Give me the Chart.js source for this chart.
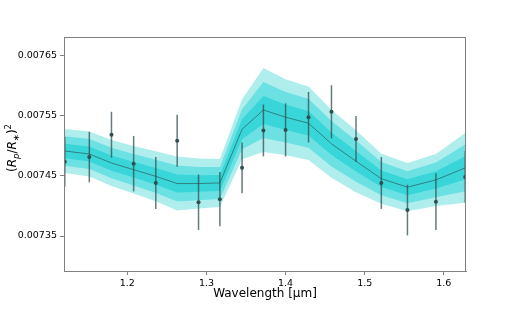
<!DOCTYPE html>
<html>
<head>
<meta charset="utf-8">
<script src="https://cdn.jsdelivr.net/npm/chart.js@4.4.1/dist/chart.umd.min.js"></script>
<style>
  html, body { margin: 0; padding: 0; background: #fff; }
  #wrap { width: 518px; height: 311px; }
</style>
</head>
<body>
<div id="wrap"><canvas id="spectrum" width="518" height="311"></canvas></div>
<script>
// observed transit depth per spectral bin
const wavelength = [1.121, 1.152, 1.180, 1.208, 1.236, 1.263, 1.290, 1.317, 1.345,
  1.372, 1.400, 1.429, 1.458, 1.489, 1.521, 1.554, 1.590, 1.627];
const depth = [0.007473, 0.007481, 0.007518, 0.007470, 0.007438, 0.007508, 0.007406, 0.007411, 0.007463,
  0.007525, 0.007526, 0.007547, 0.007556, 0.007511, 0.007438, 0.007393, 0.007407, 0.007448];
const depthErr = [0.000041, 0.000042, 0.000038, 0.000046, 0.000043, 0.000043, 0.000046, 0.000045, 0.000042,
  0.000043, 0.000044, 0.000042, 0.000044, 0.000038, 0.000043, 0.000042, 0.000047, 0.000043];

// best-fit model and its 1-sigma spread
const model = [0.007491, 0.007486, 0.007471, 0.007460, 0.007449, 0.007437, 0.007437, 0.007438, 0.007527,
  0.007559, 0.007547, 0.007537, 0.007503, 0.007474, 0.007445, 0.007431, 0.007443, 0.007463];
const modelSigma = [0.0000122, 0.0000124, 0.0000127, 0.0000131, 0.0000138, 0.0000149, 0.0000138, 0.0000133, 0.0000166,
  0.0000232, 0.0000210, 0.0000203, 0.0000188, 0.0000171, 0.0000138, 0.0000133, 0.0000144, 0.0000193];

const xTicks = [1.2, 1.3, 1.4, 1.5, 1.6];
const yTicks = [0.00735, 0.00745, 0.00755, 0.00765];

const bandColors = ['#38d6d8', '#6ce1e3', '#b0eded']; // 1, 2, 3 sigma
const frameColor = '#808080';

const pts = (ys) => wavelength.map((w, i) => ({ x: w, y: ys[i] }));

function band(k, color) {
  const upper = model.map((m, i) => m + k * modelSigma[i]);
  const lower = model.map((m, i) => m - k * modelSigma[i]);
  return [
    { data: pts(upper), fill: '+1', backgroundColor: color, borderWidth: 0, pointRadius: 0, tension: 0 },
    { data: pts(lower), fill: false, borderWidth: 0, pointRadius: 0, tension: 0 },
  ];
}

// vertical error bars, drawn just before the data markers
const errorBars = {
  id: 'errorBars',
  beforeDatasetDraw(chart, args) {
    if (args.index !== 0) return;
    const { ctx, scales: { x, y } } = chart;
    ctx.save();
    ctx.strokeStyle = 'rgba(47,79,79,0.75)';
    ctx.lineWidth = 1.5;
    wavelength.forEach((w, i) => {
      const px = x.getPixelForValue(w);
      ctx.beginPath();
      ctx.moveTo(px, y.getPixelForValue(depth[i] + depthErr[i]));
      ctx.lineTo(px, y.getPixelForValue(depth[i] - depthErr[i]));
      ctx.stroke();
    });
    ctx.restore();
  },
};

// full box around the axes
const frame = {
  id: 'frame',
  afterDraw(chart) {
    const { ctx, chartArea: a } = chart;
    ctx.save();
    ctx.strokeStyle = frameColor;
    ctx.lineWidth = 1;
    ctx.strokeRect(a.left + 0.5, a.top + 0.5, a.right - a.left - 1, a.bottom - a.top);
    ctx.restore();
  },
};

// (R_p/R_*)^2 with italics, subscripts and superscript
const yTitle = {
  id: 'yTitle',
  afterDraw(chart) {
    const ctx = chart.ctx;
    const fam = '"DejaVu Sans", sans-serif';
    const parts = [
      ['(', '12px', 0], ['R', 'italic 12px', 0], ['p', 'italic 8.5px', 3],
      ['/', '12px', 0], ['R', 'italic 12px', 0], ['\u2217', '8.5px', 3],
      [')', '12px', 0], ['2', '8.5px', -5],
    ];
    ctx.save();
    let total = 0;
    parts.forEach((p) => { ctx.font = `${p[1]} ${fam}`; total += ctx.measureText(p[0]).width; });
    const a = chart.chartArea;
    ctx.translate(16, (a.top + a.bottom) / 2 - 6);
    ctx.rotate(-Math.PI / 2);
    ctx.fillStyle = '#000';
    ctx.textBaseline = 'alphabetic';
    let cx = -total / 2;
    parts.forEach((p) => {
      ctx.font = `${p[1]} ${fam}`;
      ctx.fillText(p[0], cx, p[2]);
      cx += ctx.measureText(p[0]).width;
    });
    ctx.restore();
  },
};

const ctx = document.getElementById('spectrum').getContext('2d');
const chart = new Chart(ctx, {
  type: 'line',
  data: {
    datasets: [
      { data: pts(depth), showLine: false, pointRadius: 2, pointBackgroundColor: '#2f4f4f', pointBorderWidth: 0 },
      { data: pts(model), borderColor: 'rgba(47,100,100,0.75)', borderWidth: 1, pointRadius: 0, fill: false, tension: 0 },
      ...band(1, bandColors[0]),
      ...band(2, bandColors[1]),
      ...band(3, bandColors[2]),
    ],
  },
  options: {
    responsive: false,
    animation: false,
    layout: { padding: { left: 0, right: 52, top: 37, bottom: 0 } },
    plugins: { legend: { display: false }, tooltip: { enabled: false } },
    scales: {
      x: {
        type: 'linear',
        min: 1.12,
        max: 1.628,
        afterBuildTicks: (scale) => { scale.ticks = xTicks.map((v) => ({ value: v })); },
        afterFit: (scale) => { scale.height = 40; },
        ticks: { color: '#000', font: { family: 'DejaVu Sans', size: 9.5 }, padding: 3, maxRotation: 0,
          callback: (v) => v.toFixed(1) },
        grid: { display: true, drawOnChartArea: false, drawTicks: true, tickLength: 4, color: frameColor },
        border: { display: true, color: frameColor },
        title: { display: true, text: 'Wavelength [\u03bcm]', color: '#000',
          font: { family: 'DejaVu Sans', size: 12 }, padding: { top: 0, bottom: 10 } },
      },
      y: {
        min: 0.007292,
        max: 0.00768,
        afterBuildTicks: (scale) => { scale.ticks = yTicks.map((v) => ({ value: v })); },
        afterFit: (scale) => { scale.width = 64; },
        ticks: { color: '#000', font: { family: 'DejaVu Sans', size: 9.5 }, padding: 3,
          callback: (v) => v.toFixed(5) },
        grid: { display: true, drawOnChartArea: false, drawTicks: true, tickLength: 4, color: frameColor },
        border: { display: true, color: frameColor },
      },
    },
  },
  plugins: [errorBars, frame, yTitle],
});
</script>
</body>
</html>
